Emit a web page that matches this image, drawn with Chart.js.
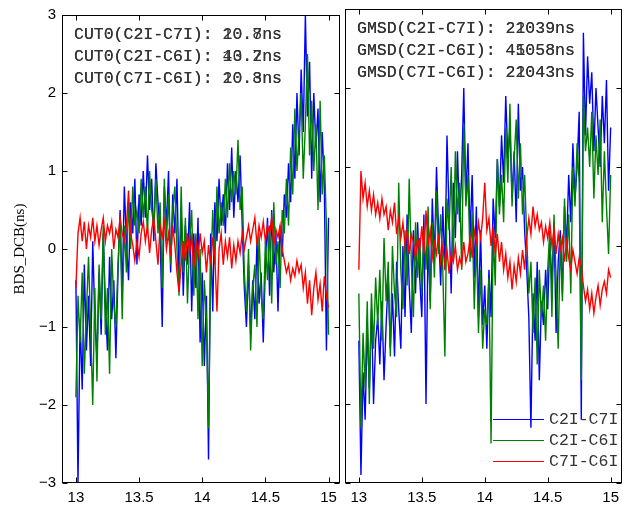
<!DOCTYPE html>
<html>
<head>
<meta charset="utf-8">
<script src="https://cdn.jsdelivr.net/npm/chart.js@4.4.0/dist/chart.umd.min.js"></script>
<style>
  body { margin: 0; background: #fff; }
  #wrap { position: relative; width: 627px; height: 506px; }
  canvas { position: absolute; top: 0; }
  #left { left: 0; }
  #right { left: 343px; }
</style>
</head>
<body>
<div id="wrap">
  <canvas id="left" width="343" height="506"></canvas>
  <canvas id="right" width="284" height="506"></canvas>
</div>
<script>
// sampling: one epoch every 1/60 day starting at day 13
const T0 = 13;
const STEP = 1 / 60;
const xTicks = [13, 13.5, 14, 14.5, 15];
const yTicks = [-3, -2, -1, 0, 1, 2, 3];
const seriesNames = ['C2I-C7I', 'C2I-C6I', 'C7I-C6I'];
const seriesColors = ['#0000ff', '#008000', '#ff0000'];

// CUT0 panel
const cutBlue = [
  -0.4, -3.0, -0.9, -1.8, -0.2, -1.3, -0.6, -1.5, 0.1, -0.9,
  -1.4, -0.3, -1.1, 0.2, -0.7, -1.3, -0.1, -0.9, -0.4, -1.4,
  -0.3, 0.5, -0.6, 0.8, 0.1, -0.4, 0.6, 0.2, 0.9, -0.2,
  0.7, 0.3, 1.0, 0.4, 1.2, 0.5, 0.9, 0.1, 1.1, 0.6,
  0.2, -1.0, 0.8, 0.3, 1.0, -0.3, 0.7, 0.2, 0.9, -0.4,
  0.5, -0.6, 0.3, -0.2, 0.6, -0.8, 0.2, -0.5, 0.4, -1.2,
  -0.3, -1.5, -0.6, -2.7, 0.2, -0.8, 0.6, 0.1, 0.9, 0.3,
  0.7, 0.2, 1.1, 0.5, 1.3, 0.4, 1.0, 0.6, 1.2, 0.3,
  -0.5, -1.0, -0.2, -1.1, -0.4, -0.9, 0.1, -0.7, -0.3, -1.2,
  -0.2, 0.4, -0.6, 0.5, -0.3, 0.2, -0.8, 0.3, -0.1, 0.7,
  0.4, 1.1, 0.6, 1.6, 0.9, 2.0, 1.2, 2.3, 1.5, 3.0,
  1.7, 2.4, 0.9, 2.0, 1.3, 1.8, 0.6, 1.5, 0.8, -1.3,
  0.4
];
const cutGreen = [
  -1.9, -0.6, -1.2, -0.3, -1.6, -0.8, -0.1, -1.0, -2.0, -0.5,
  -1.7, -0.2, -0.9, 0.3, -1.1, -0.5, -1.6, 0.0, -0.7, -1.0,
  -0.2, 0.4, -0.9, 0.3, -0.3, 0.6, 0.0, 0.8, 0.3, 0.5,
  0.2, 0.9, 0.4, 0.8, 0.2, 1.0, 0.5, 0.3, 0.9, 0.2,
  0.6, -0.5, 0.9, 0.1, 0.7, -0.2, 0.5, 0.8, 0.0, -0.6,
  0.8, -0.3, 0.4, -0.7, 0.1, 0.5, -0.6, 0.2, -0.9, 0.0,
  -1.5, -0.4, -0.9, -2.3, -0.3, 0.5, -0.2, 0.8, 0.2, 0.6,
  0.3, 0.9, 0.4, 1.1, 0.6, 1.0, 0.7, 1.4, 0.5, 0.8,
  -0.3, -0.8, 0.0, -1.3, -0.5, -0.2, -1.0, 0.2, -0.6, -0.9,
  0.1, -0.4, 0.3, -0.7, 0.6, -0.2, 0.1, -0.5, 0.5, 0.2,
  0.9, 0.3, 1.3, 0.7, 1.8, 1.0, 1.5, 2.0, 0.9, 1.6,
  2.5, 1.2, 1.9, 1.0, 1.6, 0.5, 1.9, 0.7, 1.2, 0.3,
  -1.1
];
const cutRed = [
  -0.5, 0.2, 0.4, 0.1, 0.35, 0.0, 0.3, 0.15, 0.4, 0.1,
  0.3, 0.05, 0.25, 0.4, 0.1, 0.3, 0.2, 0.35, 0.0, 0.25,
  0.15, 0.4, 0.2, 0.1, 0.3, 0.75, 0.2, 0.05, -0.15, 0.1,
  -0.1, 0.2, 0.35, 0.1, 0.3, -0.05, 0.25, 0.4, 0.1, -0.2,
  0.3, 0.15, 0.35, 0.0, 0.2, -0.1, 0.3, 0.05, -0.3, -0.55,
  -0.2, 0.1, -0.15, 0.2, -0.05, 0.15, -0.25, 0.1, -0.1, 0.2,
  -0.05, 0.1, -0.3, 0.05, -0.2, 0.15, -0.1, -0.8, 0.0, 0.2,
  -0.2, 0.1, -0.1, 0.15, -0.25, 0.05, -0.15, 0.1, -0.05, 0.2,
  0.0, 0.15, 0.3, 0.1, 0.25, 0.4, 0.05, 0.3, 0.15, 0.35,
  0.1, 0.3, 0.2, 0.4, 0.05, 0.25, 0.15, 0.3, 0.0, -0.15,
  -0.3, -0.2, -0.4, -0.25, -0.35, -0.15, -0.3, -0.2, -0.5, -0.3,
  -0.7, -0.4, -0.85, -0.5, -0.3, -0.65, -0.45, -0.8, -0.35, -0.6,
  -0.75
];

// GMSD panel
const gmsdBlue = [
  -1.2, -2.9, -1.6, -2.2, -1.0, -1.8, -0.8, -2.0, -1.2, -0.9,
  -1.5, -0.7, -1.7, -1.0, -0.4, -1.3, -0.6, -1.4, -0.2, -0.8,
  -1.3, 0.0, -0.9, 0.4, -0.5, -1.1, 0.2, -0.6, 0.3, -0.4,
  -0.9, 0.4, -2.0, 0.1, -0.7, 0.6, -0.2, 1.0, 0.2, -0.5,
  0.5, -0.3, 1.4, 0.4, -0.6, 0.8, 0.1, 1.2, 0.3, 0.9,
  2.0, 0.6, 1.3, 0.1, 0.9, -0.4, 0.5, -0.9, 0.2, -1.0,
  -0.5, -1.3, -0.3, -0.9, 0.6, 0.1, 1.1, 0.5, 1.4, 0.8,
  1.9, 1.1, 1.5, 0.6, 1.2, 0.3, 1.8, 0.7, 1.0, 0.2,
  -0.3, -0.9, -2.3, -0.6, -1.2, -0.2, -1.7, -0.7, -1.0, -0.3,
  -0.8, 0.1, -0.5, 0.3, -1.1, -0.2, 0.2, -0.6, 0.5, 0.0,
  0.9, 0.3, 1.3, 0.6, 1.0, 1.7, -2.2, 2.7, 1.4, 2.4,
  1.8, 2.2, 1.2, 2.0, 1.5, 1.0, 1.9, 1.3, 2.1, 0.7,
  1.5
];
const gmsdGreen = [
  -0.6, -2.3, -1.1, -1.8, -0.7, -2.0, -0.6, -1.3, -0.4, -1.0,
  -0.3, -1.2, 0.1, -0.7, -0.2, -1.4, 0.0, -0.6, -0.9, 0.8,
  -0.3, -0.8, 0.2, -0.5, 0.85, -0.2, -0.9, 0.3, -0.4, 0.1,
  -0.6, 0.2, -0.3, 0.5, -0.8, 0.3, -0.4, 0.7, -0.1, 0.4,
  -0.3, -1.4, 0.6, 0.2, 1.0, -0.2, 1.2, 0.4, 0.8, -0.3,
  1.55, 0.5, 0.9, -0.2, 0.4, -0.8, 0.1, -1.1, -0.3, -1.3,
  -0.8, -1.0, -0.4, -2.5, 0.2, -0.5, 1.1, 0.4, 0.9, 0.3,
  1.5, 0.8, 1.8, 0.5, 1.1, 1.6, 0.6, 1.3, 0.4, 0.9,
  0.1, -0.6, -0.2, -1.1, -0.4, -1.5, -0.3, -0.9, -0.5, -1.2,
  -0.3, 0.2, -0.9, 0.4, -0.4, -1.3, 0.1, -0.7, 0.6, -0.2,
  0.4, -0.6, 1.0, 0.5, 1.3, 0.8, -1.7, 1.9, 1.2, 1.5,
  1.0, 1.7, 0.6, 1.4, 0.9, 1.6, 0.3, 1.2, 0.5, -0.1,
  0.9
];
const gmsdRed = [
  -0.3, 0.95, 0.6, 0.8, 0.5, 0.7, 0.45, 0.65, 0.4, 0.55,
  0.35, 0.6, 0.4, 0.5, 0.2, 0.45, 0.3, 0.55, 0.15, 0.35,
  0.1, 0.3, 0.0, 0.2, -0.1, 0.15, 0.05, -0.15, 0.1, -0.05,
  0.25, -0.1, 0.45, 0.0, 0.2, -0.15, 0.05, -0.1, 0.15, -0.2,
  0.0, -0.25, -0.05, -0.35, -0.1, -0.2, 0.0, -0.3, -0.15, -0.25,
  0.05, -0.2, -0.1, 0.1, -0.15, 0.2, 0.05, 0.3, 0.1, 0.35,
  0.8, 0.2, 0.35, 0.0, 0.25, -0.1, 0.15, -0.2, 0.05, -0.3,
  -0.1, -0.4, -0.2, -0.55, -0.25, -0.45, -0.15, -0.35, -0.05, -0.3,
  0.1, 0.35, 0.15, 0.5, 0.25, 0.4, 0.2, 0.3, 0.05, 0.25,
  0.1, 0.3, 0.0, 0.2, -0.1, 0.15, -0.05, 0.1, -0.2, 0.05,
  -0.15, -0.3, -0.05, -0.2, -0.35, -0.15, -0.25, -0.5, -0.7, -0.55,
  -0.8, -0.6, -0.85, -0.65, -0.5, -0.75, -0.55, -0.45, -0.6, -0.3,
  -0.4
];

// two overlapping strings per line, as printed in the original figure
const cutNotes = [
  ['CUT0(C2I-C7I): 20.7ns', 'CUT0(C2I-C7I): 10.8ns'],
  ['CUT0(C2I-C6I): 40.7ns', 'CUT0(C2I-C6I): 13.2ns'],
  ['CUT0(C7I-C6I): 20.8ns', 'CUT0(C7I-C6I): 10.3ns']
];
const gmsdNotes = [
  ['GMSD(C2I-C7I): 22039ns', 'GMSD(C2I-C7I): 21039ns'],
  ['GMSD(C2I-C6I): 45058ns', 'GMSD(C2I-C6I): 41058ns'],
  ['GMSD(C7I-C6I): 22043ns', 'GMSD(C7I-C6I): 21043ns']
];

const MONO = '"Liberation Mono", "DejaVu Sans Mono", monospace';
const SANS = '"Liberation Sans", Arial, sans-serif';

function toPoints(values) {
  return values.map((v, i) => ({ x: T0 + i * STEP, y: v }));
}

function makeDatasets(blue, green, red) {
  return [blue, green, red].map((vals, k) => ({
    label: seriesNames[k],
    data: toPoints(vals),
    borderColor: seriesColors[k],
    borderWidth: 1.4,
    pointRadius: 0,
    tension: 0,
    order: 2 - k // red on top, then green, then blue
  }));
}

// matlab style box with inward ticks on all four sides
const boxFrame = {
  id: 'boxFrame',
  afterDraw(chart) {
    const { ctx, chartArea: a, scales: { x, y } } = chart;
    const L = Math.round(a.left) + 0.5, R = Math.round(a.right) - 0.5;
    const T = Math.round(a.top) + 0.5, B = Math.round(a.bottom) - 0.5;
    const len = 5;
    ctx.save();
    ctx.strokeStyle = '#000';
    ctx.lineWidth = 1;
    ctx.strokeRect(L, T, R - L, B - T);
    ctx.beginPath();
    xTicks.forEach(v => {
      const px = Math.round(x.getPixelForValue(v)) + 0.5;
      ctx.moveTo(px, B); ctx.lineTo(px, B - len);
      ctx.moveTo(px, T); ctx.lineTo(px, T + len);
    });
    yTicks.forEach(v => {
      const py = Math.round(y.getPixelForValue(v)) + 0.5;
      ctx.moveTo(L, py); ctx.lineTo(L + len, py);
      ctx.moveTo(R, py); ctx.lineTo(R - len, py);
    });
    ctx.stroke();
    ctx.restore();
  }
};

const notes = {
  id: 'notes',
  afterDraw(chart, args, opts) {
    const { ctx, chartArea: a } = chart;
    ctx.save();
    ctx.font = '16.5px ' + MONO;
    ctx.fillStyle = '#333';
    ctx.textBaseline = 'middle';
    opts.lines.forEach((pair, i) => {
      pair.forEach(s => ctx.fillText(s, a.left + opts.dx, a.top + 20 + i * 22));
    });
    ctx.restore();
  }
};

const lineLegend = {
  id: 'lineLegend',
  afterDraw(chart, args, opts) {
    if (!opts.show) return;
    const { ctx, chartArea: a } = chart;
    ctx.save();
    ctx.font = '16.5px ' + MONO;
    ctx.textBaseline = 'middle';
    chart.data.datasets.forEach((ds, i) => {
      const yy = Math.round(a.bottom - 64 + i * 21) + 0.5;
      const x0 = a.right - 129;
      ctx.strokeStyle = ds.borderColor;
      ctx.lineWidth = 1;
      ctx.beginPath();
      ctx.moveTo(x0, yy);
      ctx.lineTo(x0 + 51, yy);
      ctx.stroke();
      ctx.fillStyle = '#333';
      ctx.fillText(ds.label, x0 + 56, yy);
    });
    ctx.restore();
  }
};

function makeChart(canvasId, datasets, opts) {
  return new Chart(document.getElementById(canvasId), {
    type: 'line',
    data: { datasets },
    plugins: [boxFrame, notes, lineLegend],
    options: {
      responsive: false,
      animation: false,
      devicePixelRatio: 1,
      layout: { padding: opts.padding },
      plugins: {
        legend: { display: false },
        tooltip: { enabled: false },
        notes: { lines: opts.notes, dx: 12 },
        lineLegend: { show: opts.legend }
      },
      scales: {
        x: {
          type: 'linear',
          min: 12.89,
          max: 15.09,
          afterBuildTicks: s => { s.ticks = xTicks.map(v => ({ value: v })); },
          afterFit: s => { s.height = 23; },
          grid: { display: false, drawTicks: false },
          border: { display: false },
          ticks: {
            font: { family: SANS, size: 15 },
            color: '#000',
            padding: 6,
            maxRotation: 0,
            callback: v => String(v)
          }
        },
        y: {
          min: -3,
          max: 3,
          afterBuildTicks: s => { s.ticks = yTicks.map(v => ({ value: v })); },
          afterFit: s => { s.width = opts.yWidth; },
          grid: { display: false, drawTicks: false },
          border: { display: false },
          ticks: {
            display: opts.yLabels,
            font: { family: SANS, size: 15 },
            color: '#000',
            padding: 6,
            callback: v => String(v).replace('-', '\u2212')
          },
          title: {
            display: opts.yLabels,
            text: 'BDS_DCB(ns)',
            font: { family: '"Liberation Serif", "Times New Roman", serif', size: 15 },
            color: '#000',
            padding: { top: 11, bottom: 0 }
          }
        }
      }
    }
  });
}

makeChart('left', makeDatasets(cutBlue, cutGreen, cutRed), {
  padding: { top: 9, right: 3, left: 0, bottom: 0 },
  yWidth: 62, yLabels: true, notes: cutNotes, legend: false
});
makeChart('right', makeDatasets(gmsdBlue, gmsdGreen, gmsdRed), {
  padding: { top: 9, right: 5, left: 2, bottom: 0 },
  yWidth: 0, yLabels: false, notes: gmsdNotes, legend: true
});
</script>
</body>
</html>
